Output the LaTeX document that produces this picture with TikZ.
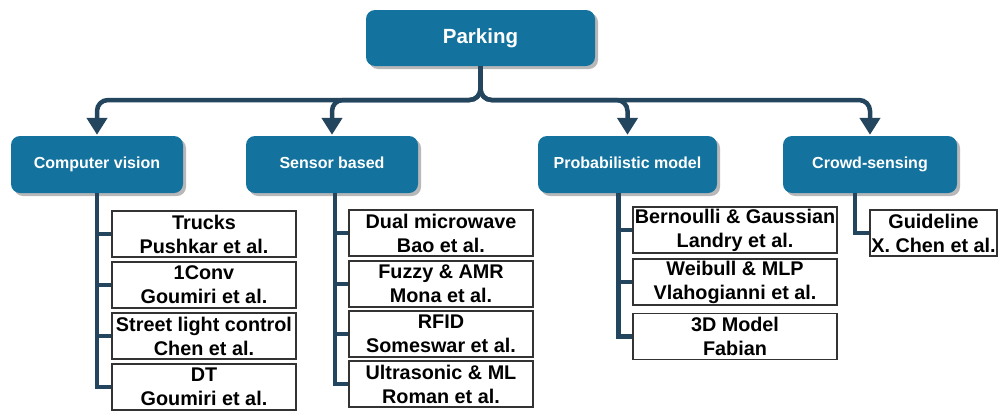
\documentclass[tikz,border=0pt]{standalone}
\usepackage{fontspec}
\setmainfont{Liberation Sans}
\usetikzlibrary{arrows.meta,shadows}
\definecolor{catfill}{HTML}{13739E}
\definecolor{connc}{HTML}{23455E}
\definecolor{boxline}{HTML}{333333}
\begin{document}
\begin{tikzpicture}[x=1pt,y=-1pt,
  catbox/.style={draw=none,fill=catfill,rounded corners=9pt,text=white,
    font=\fontsize{16}{18}\selectfont\bfseries,inner sep=0pt,
    text height=11.5pt,text depth=3.5pt,
    drop shadow={shadow xshift=3pt,shadow yshift=-3pt,fill=black!28,opacity=1}},
  leafbox/.style={draw=boxline,line width=1.3pt,fill=white,inner sep=0pt,
    minimum height=46pt,align=center,font=\fontsize{19.8}{24}\selectfont\bfseries},
  conn/.style={draw=connc,line width=4.5pt,line join=miter},
  bus/.style={conn,rounded corners=11pt,-{Triangle[width=20pt,length=17pt]}}]
\useasboundingbox (0,0) rectangle (998,410);

\node[catbox,minimum width=229pt,minimum height=56pt,
  font=\fontsize{20.5}{24}\selectfont\bfseries,text height=14.5pt,text depth=4.5pt] (park) at (480.5,38) {Parking};

\node[catbox,minimum width=172pt,minimum height=57pt] (cv) at (97,164.5) {Computer vision};
\node[catbox,minimum width=172pt,minimum height=57pt] (sb) at (332,164.5) {Sensor based};
\node[catbox,minimum width=179pt,minimum height=57pt] (pm) at (627.5,164.5) {Probabilistic model};
\node[catbox,minimum width=174pt,minimum height=57pt] (cs) at (870,164.5) {Crowd-sensing};

\coordinate (busy) at (0,100);
\draw[bus] (park.south) -- (park.south |- busy) -| ([yshift=1pt]cv.north);
\draw[bus] (park.south) -- (park.south |- busy) -| ([yshift=1pt]sb.north);
\draw[bus] (park.south) -- (park.south |- busy) -| ([yshift=1pt]pm.north);
\draw[bus] (park.south) -- (park.south |- busy) -| ([yshift=1pt]cs.north);

% Computer vision leaves
\node[leafbox,minimum width=184pt] (c1) at (204,234) {Trucks\\Pushkar et al.};
\node[leafbox,minimum width=184pt] (c2) at (204,285) {1Conv\\Goumiri et al.};
\node[leafbox,minimum width=184pt] (c3) at (204,336) {Street light control\\Chen et al.};
\node[leafbox,minimum width=184pt] (c4) at (204,387) {DT\\Goumiri et al.};

% Sensor based leaves
\node[leafbox,minimum width=184pt] (s1) at (441,233) {Dual microwave\\Bao et al.};
\node[leafbox,minimum width=184pt] (s2) at (441,284) {Fuzzy \& AMR\\Mona et al.};
\node[leafbox,minimum width=184pt] (s3) at (441,334) {RFID\\Someswar et al.};
\node[leafbox,minimum width=184pt] (s4) at (441,384) {Ultrasonic \& ML\\Roman et al.};

% Probabilistic leaves
\node[leafbox,minimum width=204pt] (p1) at (735,230) {Bernoulli \& Gaussian\\Landry et al.};
\node[leafbox,minimum width=204pt] (p2) at (735,282) {Weibull \& MLP\\Vlahogianni et al.};
\node[leafbox,minimum width=204pt] (p3) at (735,336.5) {3D Model\\Fabian};

% Crowd leaf
\node[leafbox,minimum width=127pt] (x1) at (933.5,233) {Guideline\\X. Chen et al.};

% connectors
\coordinate (cvs) at ([xshift=0pt]cv.south);
\coordinate (sbs) at ([xshift=3pt]sb.south);
\coordinate (pms) at ([xshift=-9pt]pm.south);
\coordinate (css) at ([xshift=-15pt]cs.south);

\draw[conn] (cvs) |- (c4.west);
\draw[conn] (c1.west) -- (c1.west -| cvs);
\draw[conn] (c2.west) -- (c2.west -| cvs);
\draw[conn] (c3.west) -- (c3.west -| cvs);

\draw[conn] (sbs) |- (s4.west);
\draw[conn] (s1.west) -- (s1.west -| sbs);
\draw[conn] (s2.west) -- (s2.west -| sbs);
\draw[conn] (s3.west) -- (s3.west -| sbs);

\draw[conn] (pms) |- (p3.west);
\draw[conn] (p1.west) -- (p1.west -| pms);
\draw[conn] (p2.west) -- (p2.west -| pms);

\draw[conn] (css) |- (x1.west);
\end{tikzpicture}
\end{document}
